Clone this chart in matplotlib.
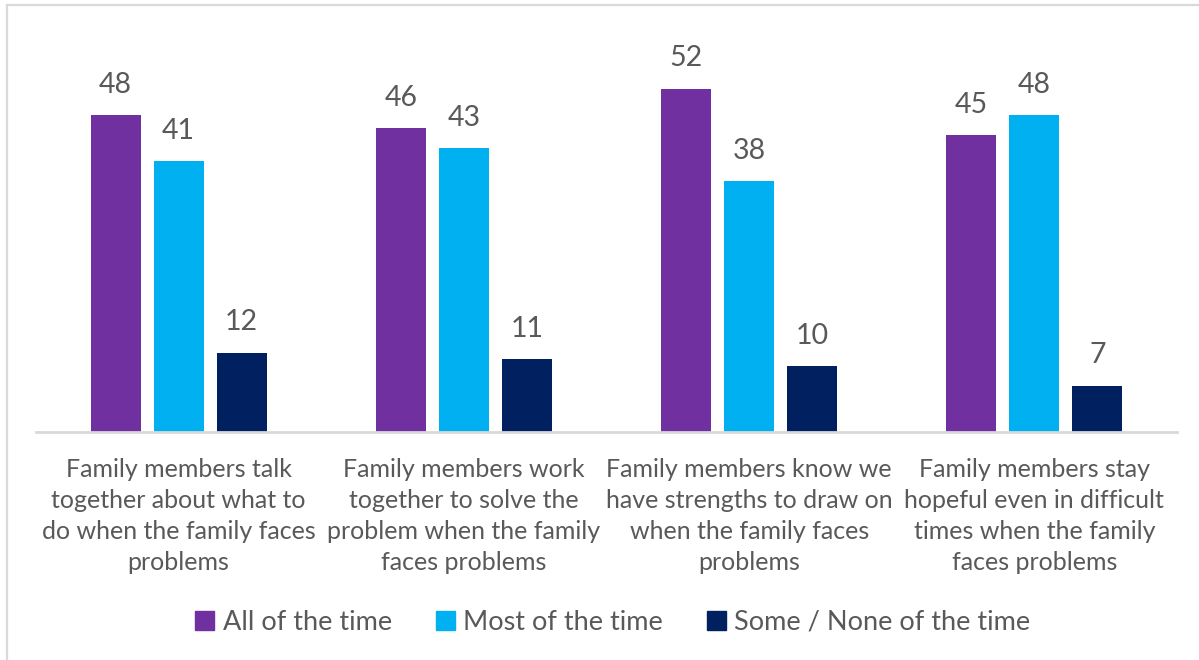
import matplotlib
matplotlib.use("Agg")
import matplotlib.pyplot as plt
from matplotlib.lines import Line2D
from matplotlib.patches import Patch
import numpy as np

categories = [
    "Family members talk\ntogether about what to\ndo when the family faces\nproblems",
    "Family members work\ntogether to solve the\nproblem when the family\nfaces problems",
    "Family members know we\nhave strengths to draw on\nwhen the family faces\nproblems",
    "Family members stay\nhopeful even in difficult\ntimes when the family\nfaces problems",
]
series_names = ["All of the time", "Most of the time", "Some / None of the time"]
all_time = [48, 46, 52, 45]
most_time = [41, 43, 38, 48]
some_none = [12, 11, 10, 7]

colors = ["#7030A0", "#00B0F0", "#002060"]
text_color = "#595959"
plt.rcParams["font.family"] = ["Lato", "DejaVu Sans"]

W, H = 1199, 660
fig = plt.figure(figsize=(W / 100, H / 100), dpi=100)
ax = fig.add_axes([36 / W, (H - 432) / H, (1177 - 36) / W, (432 - 36) / H])

x = np.arange(len(categories))
width = 50 / 285.25
step = 63 / 285.25
values = [all_time, most_time, some_none]
for i, (vals, c) in enumerate(zip(values, colors)):
    pos = x + (i - 1) * step
    ax.bar(pos, vals, width=width, color=c, zorder=2)
    for p, v in zip(pos, vals):
        ax.text(p, v + 4.6, f"{v}", ha="center", va="center",
                fontsize=20.5, color=text_color)

ax.set_xlim(-0.5, len(categories) - 0.5)
ax.set_ylim(0, 60)
for s in ["top", "right", "left"]:
    ax.spines[s].set_visible(False)
ax.spines["bottom"].set_color("#D9D9D9")
ax.spines["bottom"].set_linewidth(2)
ax.set_yticks([])
ax.set_xticks([])

for xi, lab in zip(x, categories):
    ax.text(xi, -0.066, lab, transform=ax.get_xaxis_transform(),
            ha="center", va="top", fontsize=18, color=text_color,
            linespacing=1.42)

handles = [Patch(facecolor=c, edgecolor=c) for c in colors]
fig.legend(handles, series_names, loc="center", bbox_to_anchor=(0.511, (H - 622) / H),
           ncol=3, frameon=False, fontsize=19.5, labelcolor=text_color,
           handlelength=0.7, handleheight=0.7, handletextpad=0.3,
           columnspacing=1.63)

# chart-area border (left and top edges)
fig.add_artist(Line2D([6.5 / W, 6.5 / W], [0, 1 - 5 / H], transform=fig.transFigure,
                      color="#D9D9D9", linewidth=1.6))
fig.add_artist(Line2D([6.5 / W, 1], [1 - 5 / H, 1 - 5 / H], transform=fig.transFigure,
                      color="#D9D9D9", linewidth=1.6))

fig.savefig("out.png", dpi=100)
